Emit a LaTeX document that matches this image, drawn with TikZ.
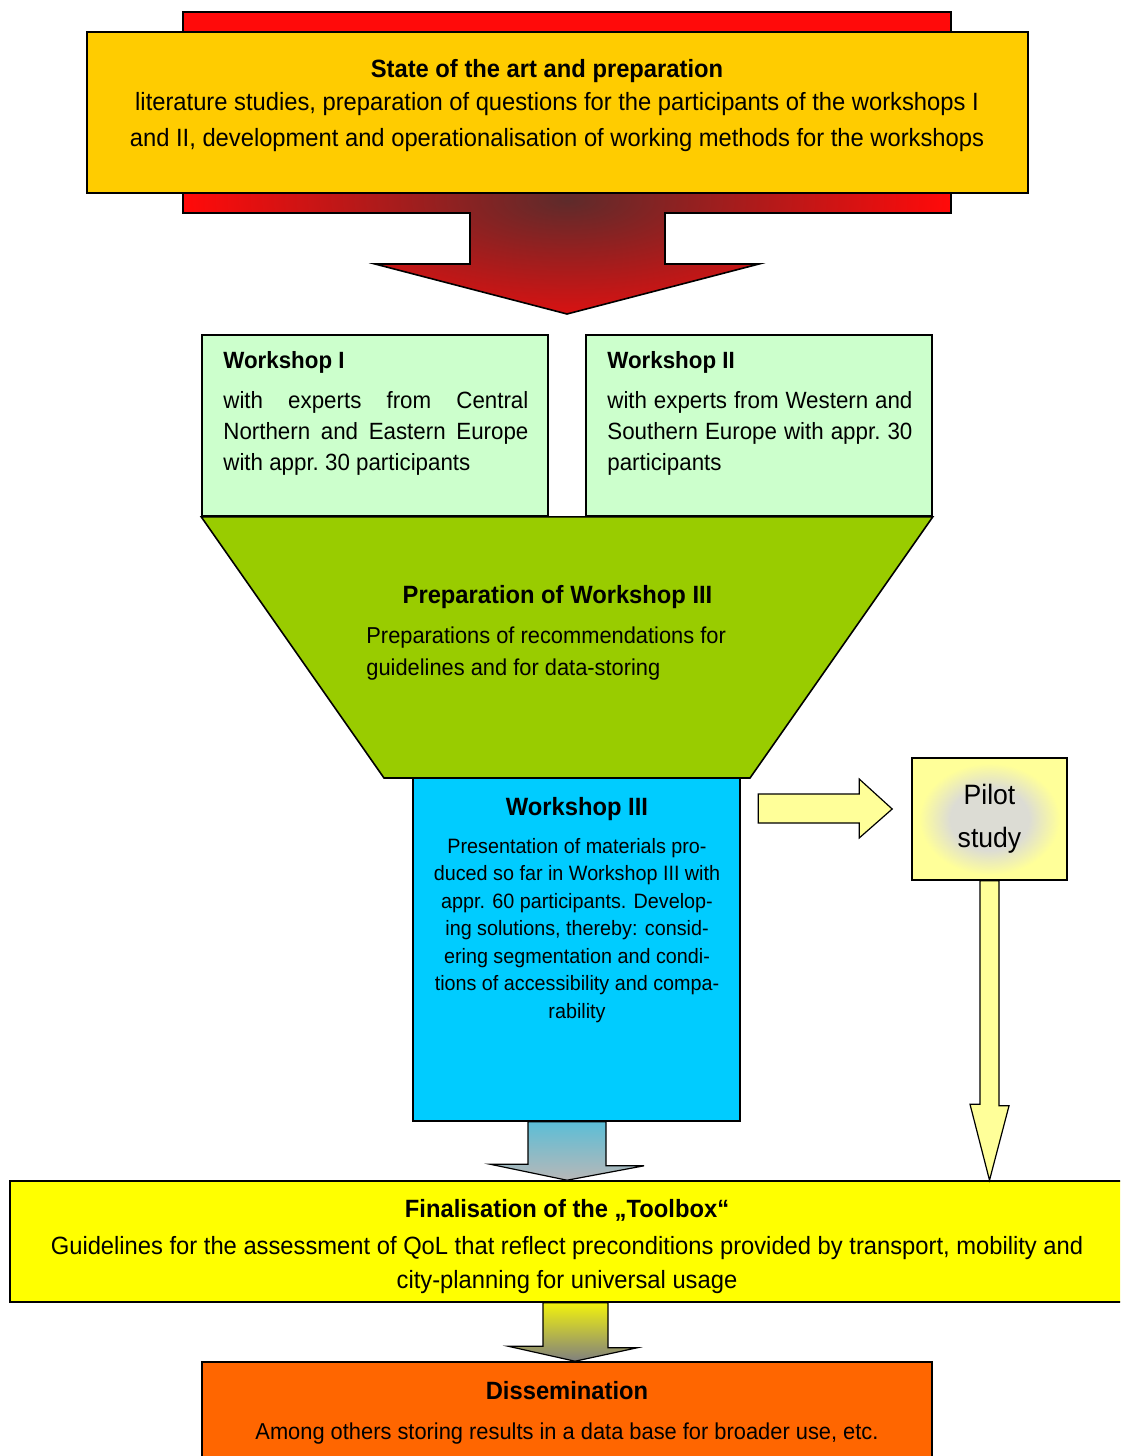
\documentclass[tikz,border=0pt]{standalone}
\usepackage{fontspec}
\setmainfont{Liberation Sans}[FakeStretch=0.95]
\usetikzlibrary{calc}
\definecolor{stateyellow}{HTML}{FFCC00}
\definecolor{callred}{HTML}{FF0A0A}
\definecolor{callbrown}{HTML}{5E2B2B}
\definecolor{wsgreen}{HTML}{CCFFCC}
\definecolor{prepgreen}{HTML}{99CC00}
\definecolor{wscyan}{HTML}{00CCFF}
\definecolor{pilotyellow}{HTML}{FFFF99}
\definecolor{pilotgray}{HTML}{DCDCD4}
\definecolor{finalyellow}{HTML}{FFFF00}
\definecolor{dissorange}{HTML}{FF6600}
\newcommand{\px}[1]{#1*0.5pt}
\pgfdeclareradialshading{pilotglow}{\pgfpoint{0bp}{0bp}}{color(0bp)=(pilotgray); color(14bp)=(pilotgray); color(25bp)=(pilotyellow); color(50bp)=(pilotyellow)}

\begin{document}
\begin{tikzpicture}[x=0.5pt, y=-0.5pt,
    box/.style={draw, line width=0.8pt, inner sep=0pt},
    blk/.style={draw, line width=0.6pt, line join=miter},
    ttl/.style={font=\bfseries\fontsize{12.5}{15}\selectfont, inner sep=0pt},
    txt/.style={font=\fontsize{12.5}{18}\selectfont, inner sep=0pt}]
        \useasboundingbox (0,0) rectangle (1120,1456);
        \clip (0,0) rectangle (1120,1456);

        % Red callout behind the first box
        \begin{scope}
            \clip (183,12) -- (951,12) -- (951,213) -- (665,213) -- (665,264) -- (759,264)
                -- (567,314) -- (375,264) -- (470,264) -- (470,213) -- (183,213) -- cycle;
            \fill[callred] (183,12) rectangle (951,314);
            \shade[inner color=callbrown, outer color=callred] (567,200) ellipse (380 and 150);
        \end{scope}
        \draw[line width=0.8pt] (183,12) -- (951,12) -- (951,213) -- (665,213) -- (665,264) -- (759,264)
            -- (567,314) -- (375,264) -- (470,264) -- (470,213) -- (183,213) -- cycle;

        % State of the art
        \node[box, fill=stateyellow, minimum width=\px{941}, minimum height=\px{161}] (sota) at (557.5,112.5) {};
        \node[ttl, anchor=base] (sotatitle) at (547,77) {State of the art and preparation};
        \node[txt, anchor=base, align=center] (sotatext) at (557,146) {literature studies, preparation of questions for the participants of the workshops I\\and II, development and operationalisation of working methods for the workshops};

        % Workshops I and II
        \node[box, fill=wsgreen, minimum width=\px{346}, minimum height=\px{181}] (ws1) at (375,425.5) {};
        \node[box, fill=wsgreen, minimum width=\px{346}, minimum height=\px{181}] (ws2) at (759,425.5) {};
        \node[ttl, font=\bfseries\fontsize{11.75}{15}\selectfont, anchor=base west] (ws1title) at (223,368) {Workshop I};
        \node[txt, font=\fontsize{11.75}{15.5}\selectfont, anchor=base west, text width=\px{305}, align=justify] (ws1text) at (223,408) {with experts from Central Northern and Eastern Europe with appr.~30 participants};
        \node[ttl, font=\bfseries\fontsize{11.75}{15}\selectfont, anchor=base west] (ws2title) at (607,368) {Workshop II};
        \node[txt, font=\fontsize{11.75}{15.5}\selectfont, anchor=base west, text width=\px{305}, align=justify] (ws2text) at (607,408) {with experts from Western and Southern Europe with appr.~30 participants};

        % Funnel to Workshop III
        \draw[fill=prepgreen, line width=0.8pt] (ws1.south west) -- (ws2.south east) -- (750,778) -- (384,778) -- cycle;
        \node[ttl, anchor=base] (preptitle) at (557.5,603) {Preparation of Workshop III};
        \node[txt, font=\fontsize{11.5}{16}\selectfont, anchor=base west, align=left] (preptext) at (366,675) {Preparations of recommendations for\\guidelines and for data-storing};

        % Workshop III
        \node[box, fill=wscyan, minimum width=\px{327}, minimum height=\px{343}] (ws3) at (576.5,949.5) {};
        \node[ttl, anchor=base] (ws3title) at (577,815) {Workshop III};
        \node[txt, font=\fontsize{10.4}{13.75}\selectfont, anchor=base, align=center] (ws3text) at (577,1018) {Presentation of materials pro-\\duced so far in Workshop III with\\appr. 60 participants. Develop-\\ing solutions, thereby: consid-\\ering segmentation and condi-\\tions of accessibility and compa-\\rability};

        % Pilot study
        \node[box, fill=pilotyellow, minimum width=\px{155}, minimum height=\px{122}] (pilot) at (989.5,819) {};
        \shade[shading=pilotglow] ($(pilot.south west)+(8,-6)$) rectangle ($(pilot.north east)+(-8,6)$);
        \node[txt, font=\fontsize{14}{21.5}\selectfont, anchor=base, align=center] (pilottext) at (989.5,847) {Pilot\\study};

        % Finalisation and dissemination
        \node[box, fill=finalyellow, minimum width=\px{1114}, minimum height=\px{121}] (final) at (567,1241.5) {};
        \node[ttl, anchor=base] (finaltitle) at (567,1217) {Finalisation of the „Toolbox“};
        \node[txt, font=\fontsize{12.5}{17}\selectfont, anchor=base, align=center] (finaltext) at (567,1288) {Guidelines for the assessment of QoL that reflect preconditions provided by transport, mobility and\\city-planning for universal usage};
        \node[box, fill=dissorange, minimum width=\px{730}, minimum height=\px{118}] (diss) at (567,1421) {};
        \node[ttl, anchor=base] (disstitle) at (567,1399) {Dissemination};
        \node[txt, font=\fontsize{11.5}{15}\selectfont, anchor=base] (disstext) at (567,1439) {Among others storing results in a data base for broader use, etc.};

        % Block arrows
        \draw[blk, fill=pilotyellow] ($(pilot.west)+(-19,-10)$) -- ++(-33,-30) -- ++(0,15) -- ++(-101,0)
            -- ++(0,29) -- ++(101,0) -- ++(0,15) -- cycle;
        \draw[blk, fill=pilotyellow] (pilot.south |- final.north) -- ++(-19.5,-76) -- ++(10,0) |- (pilot.south)
            -- ++(9.5,0) -- ++(0,225) -- ++(10,0) -- cycle;
        \draw[blk, top color=wscyan!60!gray!80, bottom color=black!28] (final.north) -- ++(-77,-16) -- ++(38,0)
            |- (ws3.south -| final.north) -- ++(39,0) -- ++(0,44) -- ++(38,0) -- cycle;
        \draw[blk, top color=finalyellow!90!gray, bottom color=black!50] ($(diss.north)+(8,0)$) -- ++(-67,-15) -- ++(35,0)
            |- ($(final.south)+(8,0)$) -- ++(33,0) -- ++(0,45) -- ++(29,0) -- cycle;
    \end{tikzpicture}
\end{document}
